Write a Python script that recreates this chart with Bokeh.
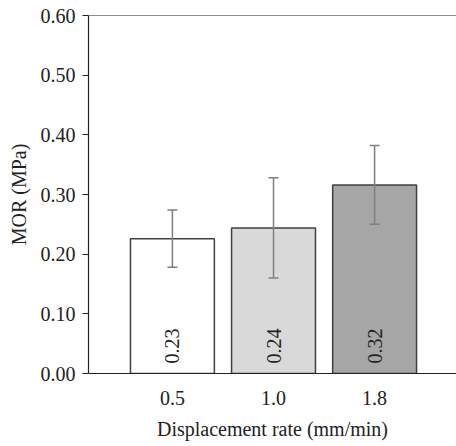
import math

from bokeh.embed import file_html
from bokeh.models import ColumnDataSource, FixedTicker, Label, Range1d, Span, Whisker
from bokeh.plotting import figure
from bokeh.resources import INLINE

# Displacement-rate groups and measured modulus of rupture (MPa)
rates = ["0.5", "1.0", "1.8"]
mor_mean = [0.226, 0.244, 0.316]
mor_sd = [0.048, 0.084, 0.066]
bar_colors = ["#ffffff", "#d9d9d9", "#a6a6a6"]
y_ticks = [0.0, 0.1, 0.2, 0.3, 0.4, 0.5, 0.6]

FONT = "Liberation Serif"
INK = "#222222"

xs = list(range(len(rates)))
src = ColumnDataSource(dict(
    x=xs,
    top=mor_mean,
    upper=[m + s for m, s in zip(mor_mean, mor_sd)],
    lower=[m - s for m, s in zip(mor_mean, mor_sd)],
    color=bar_colors,
    label=[f"{m:.2f}" for m in mor_mean],
    label_y=[0.0] * len(rates),
))

p = figure(
    width=456, height=442,
    x_range=Range1d(-0.83, 2.81), y_range=Range1d(0, 0.6),
    output_backend="svg", toolbar_location=None,
    min_border=0,
    min_border_left=88, min_border_right=0, min_border_top=15, min_border_bottom=68,
)
p.outline_line_color = None
p.grid.visible = False
# transparent fills: the white page shows through
p.background_fill_color = None
p.border_fill_color = None

p.vbar(x="x", top="top", width=0.83, bottom=0, source=src,
       fill_color="color", line_color="#404040", line_width=1.5)

# standard-deviation error bars, drawn over the bars
err = Whisker(base="x", upper="upper", lower="lower", source=src,
              line_color="#7f7f7f", line_width=1.5, level="overlay")
for head in (err.upper_head, err.lower_head):
    head.size = 10
    head.line_color = "#7f7f7f"
    head.line_width = 1.5
p.add_layout(err)

# value written upright inside each bar
p.text(x="x", y="label_y", text="label", source=src, angle=math.pi / 2,
       text_font=FONT, text_font_size="20px", text_color=INK,
       text_align="left", text_baseline="middle", y_offset=-10)

# y axis
ya = p.yaxis[0]
ya.ticker = FixedTicker(ticks=y_ticks)
ya.major_label_overrides = {t: f"{t:.2f}" for t in y_ticks}
ya.major_tick_in = 0
ya.major_tick_out = 6
ya.minor_tick_line_color = None
ya.major_label_standoff = 7
ya.major_label_text_font = FONT
ya.major_label_text_font_size = "20px"
ya.major_label_text_color = INK
ya.axis_line_color = INK
ya.major_tick_line_color = INK
ya.axis_line_width = 1.2
ya.axis_label = "MOR (MPa)"
ya.axis_label_text_font = FONT
ya.axis_label_text_font_size = "20px"
ya.axis_label_text_font_style = "normal"
ya.axis_label_text_color = INK
ya.axis_label_standoff = 8

# x axis
xa = p.xaxis[0]
xa.ticker = FixedTicker(ticks=xs)
xa.major_label_overrides = {i: r for i, r in zip(xs, rates)}
xa.major_tick_in = 0
xa.major_tick_out = 0
xa.minor_tick_line_color = None
xa.major_label_standoff = 17
xa.major_label_text_font = FONT
xa.major_label_text_font_size = "20px"
xa.major_label_text_color = INK
xa.axis_line_color = INK
xa.axis_line_width = 1.2
xa.axis_label = "Displacement rate (mm/min)"
xa.axis_label_text_font = FONT
xa.axis_label_text_font_size = "20px"
xa.axis_label_text_font_style = "normal"
xa.axis_label_text_color = INK
xa.axis_label_standoff = 10

# top frame line
p.add_layout(Span(location=0.6, dimension="width", line_color=INK, line_width=1.2))

# panel tag in the lower-left corner
p.add_layout(Label(x=0, y=434, x_units="canvas", y_units="canvas", text="(a)",
                   level="overlay", text_font=FONT, text_font_size="22px",
                   text_font_style="bold", text_color="#111111",
                   text_align="left", text_baseline="middle"))

open("out.html", "w").write(file_html(p, INLINE))
